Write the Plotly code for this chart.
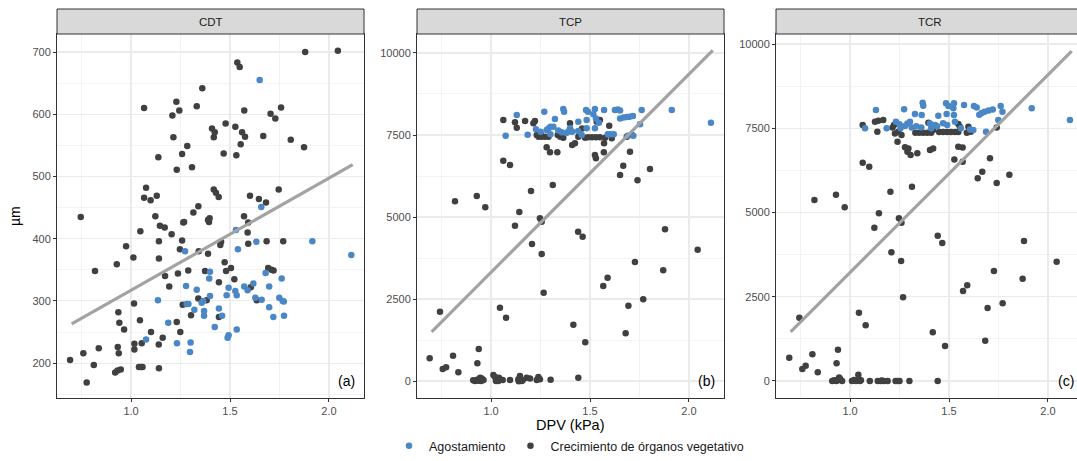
import plotly.graph_objects as go

# ---------------- data ----------------
cdt_ago_x = [1.650, 1.658, 1.076, 1.136, 1.188, 1.232, 1.273, 1.278, 1.281, 1.290, 1.298, 1.301, 1.320, 1.332,
             1.357, 1.365, 1.369, 1.369, 1.395, 1.399, 1.399, 1.423, 1.444, 1.460, 1.483, 1.488, 1.493, 1.493,
             1.527, 1.534, 1.534, 1.530, 1.540, 1.572, 1.589, 1.618, 1.628, 1.633, 1.660, 1.680, 1.698, 1.698,
             1.719, 1.749, 1.761, 1.766, 1.772, 1.773, 1.916, 2.113]
cdt_ago_y = [655, 451, 238, 301, 265, 232, 380, 324, 295, 295, 218, 233, 286, 318,
             297, 300, 284, 276, 336, 347, 308, 258, 288, 276, 309, 241, 245, 321,
             316, 309, 254, 414, 383, 323, 317, 328, 305, 395, 302, 345, 323, 290,
             274, 305, 336, 300, 299, 276, 396, 374]
cdt_cre_x = [0.746, 1.066, 1.138, 1.076, 1.066, 1.099, 1.130, 1.123, 1.209, 1.229, 1.244, 1.214, 1.231, 1.258,
             1.284, 1.308, 1.332, 1.360, 1.268, 1.315, 1.340, 1.389, 1.397, 1.409, 1.423, 1.418, 1.418, 1.429,
             1.443, 1.468, 1.478, 1.527, 1.532, 1.537, 1.549, 1.572, 1.561, 1.576, 1.554, 1.601, 1.571, 1.592,
             1.646, 1.682, 1.668, 1.705, 1.729, 1.758, 1.746, 1.807, 1.874, 1.880, 2.045,
             0.692, 0.759, 0.776, 0.812, 0.818, 0.837, 0.928, 0.936, 0.941, 0.965, 0.933, 0.938, 0.920, 0.932,
             0.948, 0.975, 1.012, 1.015, 1.017, 1.017, 1.045, 1.054, 1.047, 1.040, 1.050, 1.058, 1.101, 1.141,
             1.141, 1.140, 1.141, 1.146, 1.170, 1.160, 1.172, 1.193, 1.205, 1.231, 1.237, 1.249, 1.247, 1.258,
             1.264, 1.261, 1.289, 1.303, 1.340, 1.342, 1.374, 1.382, 1.389, 1.394, 1.444, 1.444, 1.451, 1.455,
             1.473, 1.480, 1.505, 1.522, 1.589, 1.592, 1.605, 1.635, 1.685, 1.693, 1.710, 1.720, 1.769]
cdt_cre_y = [435, 610, 531, 482, 466, 462, 469, 436, 598, 620, 606, 563, 511, 536,
             549, 515, 613, 642, 427, 442, 452, 430, 433, 577, 571, 563, 479, 474,
             467, 537, 585, 580, 534, 683, 676, 606, 571, 564, 552, 469, 436, 426,
             464, 458, 565, 601, 593, 611, 479, 559, 547, 700, 702,
             205, 216, 169, 197, 348, 224, 359, 282, 265, 254, 226, 216, 185, 188,
             190, 388, 370, 296, 231, 222, 269, 232, 412, 194, 194, 194, 250, 396,
             368, 230, 192, 421, 418, 241, 340, 323, 407, 266, 344, 250, 383, 397,
             426, 294, 349, 277, 304, 380, 348, 301, 376, 427, 330, 274, 390, 395,
             362, 348, 353, 335, 410, 392, 322, 301, 396, 353, 350, 349, 396]

tcp_ago_x = [1.130, 1.074, 1.185, 1.269, 1.227, 1.281, 1.290, 1.300, 1.323, 1.365, 1.369, 1.315, 1.357, 1.399,
             1.390, 1.380, 1.410, 1.441, 1.458, 1.480, 1.490, 1.483, 1.483, 1.525, 1.517, 1.530, 1.525, 1.571,
             1.545, 1.590, 1.605, 1.620, 1.626, 1.640, 1.652, 1.652, 1.670, 1.685, 1.700, 1.717, 1.690, 1.719,
             1.753, 1.761, 1.913, 2.111, 1.250, 1.300, 1.440, 1.340]
tcp_ago_y = [8110, 7479, 7510, 8211, 7674, 7653, 7700, 7750, 7989, 8293, 8211, 7754, 7583, 7705,
             7600, 7560, 7600, 7906, 7500, 8263, 8211, 7958, 7705, 8293, 8131, 8000, 7705, 8263,
             7870, 7520, 7520, 7520, 8260, 8280, 8250, 8000, 8030, 8050, 8060, 8080, 7479, 7479,
             7827, 8263, 8263, 7876, 7600, 7520, 7620, 7640]
tcp_cre_x = [1.062, 1.121, 1.130, 1.172, 1.222, 1.214, 1.231, 1.240, 1.256, 1.273, 1.290, 1.337, 1.350, 1.365,
             1.281, 1.298, 1.335, 1.399, 1.410, 1.424, 1.441, 1.450, 1.475, 1.490, 1.510, 1.530, 1.550, 1.534,
             1.550, 1.597, 1.576, 1.610, 1.571, 1.525, 1.530, 1.570, 1.702, 1.668, 1.803, 1.652, 1.740, 1.062,
             1.096, 1.686, 1.712, 1.400, 1.460, 1.250,
             0.818, 0.928, 0.971, 1.121, 1.143, 1.202, 1.247, 1.256, 1.312, 1.440, 1.463, 1.879, 1.207, 1.256,
             1.266, 1.416, 1.476, 1.567, 1.589, 1.680, 1.694, 1.727, 1.769, 1.870, 2.044, 1.045, 1.076, 0.742,
             0.690, 0.756, 0.773, 0.808, 0.835, 0.938, 0.931, 1.441,
             0.910, 0.919, 0.929, 0.942, 0.953, 0.962, 0.935, 0.945, 1.012, 1.020, 1.029, 1.037, 1.059, 1.025,
             1.096, 1.138, 1.146, 1.155, 1.180, 1.197, 1.231, 1.239, 1.247, 1.301, 1.160, 1.140, 1.040, 0.950]
tcp_cre_y = [7958, 7887, 7723, 7927, 7927, 7857, 7500, 7449, 7449, 7449, 7449, 7500, 7449, 7418,
             7125, 6973, 6973, 7857, 7196, 7247, 7449, 7500, 7418, 7430, 7430, 7430, 7430, 7906,
             7958, 7784, 7418, 7398, 7247, 6891, 6790, 6975, 6991, 6565, 6464, 6281, 6119, 6717,
             6586, 7449, 7500, 7650, 7700, 7550,
             5479, 5641, 5296, 4735, 5153, 5793, 4960, 4857, 5976, 4552, 4400, 4630, 4177, 3872,
             2693, 1717, 1180, 2896, 3150, 1454, 2296, 3628, 2490, 3375, 4003, 2236, 1931, 2114,
             691, 366, 418, 772, 264, 976, 539, 101,
             20, 0, 40, 60, 80, 30, 10, 100, 183, 120, 50, 0, 30, 0,
             30, 50, 150, 0, 100, 80, 30, 120, 50, 40, 20, -10, 100, 0]

tcr_ago_x = [1.131, 1.076, 1.185, 1.273, 1.232, 1.278, 1.290, 1.303, 1.328, 1.367, 1.370, 1.362, 1.312, 1.360,
             1.404, 1.410, 1.430, 1.446, 1.485, 1.497, 1.488, 1.491, 1.525, 1.522, 1.525, 1.530, 1.576, 1.606,
             1.623, 1.626, 1.640, 1.653, 1.665, 1.680, 1.700, 1.721, 1.687, 1.749, 1.761, 1.770, 1.918, 2.111,
             1.255, 1.335, 1.470, 1.560, 1.440, 1.250]
tcr_ago_y = [8041, 7497, 7497, 8062, 7694, 7566, 7645, 7694, 7922, 8259, 8170, 7892, 7526, 7526,
             7645, 7500, 7600, 7872, 8239, 8160, 7922, 7595, 8239, 8091, 7892, 7694, 8189, 7467,
             7447, 8159, 8120, 7900, 7950, 7990, 8030, 8060, 7397, 7744, 8159, 7990, 8091, 7744,
             7500, 7560, 7650, 7500, 7560, 7620]
tcr_cre_x = [1.064, 1.126, 1.143, 1.168, 1.138, 1.222, 1.215, 1.227, 1.244, 1.260, 1.240, 1.278, 1.295, 1.290,
             1.306, 1.340, 1.330, 1.350, 1.370, 1.390, 1.410, 1.396, 1.404, 1.420, 1.450, 1.470, 1.490, 1.510,
             1.530, 1.547, 1.547, 1.555, 1.598, 1.590, 1.610, 1.547, 1.569, 1.527, 1.569, 1.707, 1.741, 1.064,
             1.097, 1.645, 1.668, 1.741, 1.805, 1.420,
             0.820, 0.929, 0.973, 1.123, 1.146, 1.204, 1.247, 1.260, 1.313, 1.443, 1.466, 1.879, 1.209, 1.258,
             1.268, 1.418, 1.480, 1.571, 1.592, 1.683, 1.695, 1.727, 1.771, 1.872, 2.044, 1.045, 1.079, 0.744,
             0.693, 0.759, 0.776, 0.810, 0.837, 0.939, 0.932, 1.042, 1.443,
             0.910, 0.920, 0.930, 0.940, 0.950, 0.960, 0.935, 0.945, 1.010, 1.020, 1.030, 1.050, 1.055, 1.100,
             1.140, 1.155, 1.170, 1.190, 1.230, 1.240, 1.250, 1.300, 1.160, 1.045]
tcr_cre_y = [7595, 7694, 7723, 7744, 7397, 7595, 7526, 7348, 7397, 7298, 7101, 6933, 6903, 6803,
             6705, 6755, 7368, 7368, 7368, 7368, 7368, 7664, 6854, 6903, 7390, 7390, 7390, 7390,
             7390, 7390, 7625, 7546, 7546, 7368, 7397, 6952, 6932, 6576, 6507, 6607, 7526, 6477,
             6358, 6014, 6210, 5875, 6121, 7450,
             5370, 5528, 5153, 4549, 4975, 5617, 4827, 4697, 5765, 4311, 4094, 4154, 3818, 3560,
             2483, 1445, 1038, 2670, 2839, 1196, 2166, 3264, 2305, 3036, 3540, 2027, 1652, 1878,
             691, 356, 454, 792, 258, 929, 525, 187, 0,
             0, 20, 0, 40, 60, 0, 10, 100, 0, 30, 0, 0, 20, 0,
             0, 0, 0, 0, 0, 0, 0, 0, 10, 40]

# linear fit lines (endpoints)
fit_x = [0.70, 2.12]
cdt_fit_y = [263, 519]
tcp_fit_y = [1500, 10080]
tcr_fit_y = [1460, 9790]

panels = ["CDT", "TCP", "TCR"]
panel_tags = ["(a)", "(b)", "(c)"]
legend_names = ["Agostamiento", "Crecimiento de órganos vegetativo"]

# ---------------- styling ----------------
FONT = "Liberation Sans, Arial, sans-serif"
COL_AGO = "#4A87C6"
COL_CRE = "#404040"
COL_FIT = "#A3A3A3"
GRID = "#EBEBEB"
BORDER = "#333333"

fig = go.Figure()

data_sets = [
    (cdt_ago_x, cdt_ago_y, cdt_cre_x, cdt_cre_y, cdt_fit_y),
    (tcp_ago_x, tcp_ago_y, tcp_cre_x, tcp_cre_y, tcp_fit_y),
    (tcr_ago_x, tcr_ago_y, tcr_cre_x, tcr_cre_y, tcr_fit_y),
]

for i, (ax_, ay_, cx_, cy_, fy_) in enumerate(data_sets):
    xa = "x" if i == 0 else f"x{i+1}"
    ya = "y" if i == 0 else f"y{i+1}"
    fig.add_trace(go.Scatter(x=cx_, y=cy_, mode="markers", xaxis=xa, yaxis=ya,
                             marker=dict(color=COL_CRE, size=6.5, line=dict(width=0)),
                             name=legend_names[1], legendgroup="cre", showlegend=(i == 0),
                             legendrank=2, cliponaxis=False))
    fig.add_trace(go.Scatter(x=ax_, y=ay_, mode="markers", xaxis=xa, yaxis=ya,
                             marker=dict(color=COL_AGO, size=6.5, line=dict(width=0)),
                             name=legend_names[0], legendgroup="ago", showlegend=(i == 0),
                             legendrank=1, cliponaxis=False))
    fig.add_trace(go.Scatter(x=fit_x, y=fy_, mode="lines", xaxis=xa, yaxis=ya,
                             line=dict(color=COL_FIT, width=3.2), showlegend=False,
                             hoverinfo="skip"))

# The page's body margin is removed (post_script below), so figure px = page px.
# The figure is a little wider than the window so the third panel is cut at the
# right edge exactly like the reference picture.
W, H = 1083, 461
ML, MT = 57, 34
MB = H - 398
MR = 0
PW = W - ML - MR
PH = H - MT - MB

def px_to_paper_x(px):
    return (px - ML) / PW

def px_to_paper_y(py):
    return (H - MB - py) / PH

domains = [
    [px_to_paper_x(57), px_to_paper_x(364)],
    [px_to_paper_x(417), px_to_paper_x(724)],
    [px_to_paper_x(776), 1.0],
]
x_ranges = [[0.626, 2.177], [0.626, 2.177], [0.626, 2.177]]
y_ranges = [[144, 729], [-518, 10579], [-506, 10298]]
y_major = [[200, 300, 400, 500, 600, 700], [0, 2500, 5000, 7500, 10000], [0, 2500, 5000, 7500, 10000]]
y_minor = [[150, 250, 350, 450, 550, 650], [1250, 3750, 6250, 8750], [1250, 3750, 6250, 8750]]

layout_axes = {}
for i in range(3):
    xk = "xaxis" if i == 0 else f"xaxis{i+1}"
    yk = "yaxis" if i == 0 else f"yaxis{i+1}"
    ya = "y" if i == 0 else f"y{i+1}"
    xa = "x" if i == 0 else f"x{i+1}"
    layout_axes[xk] = dict(
        domain=domains[i], anchor=ya, range=x_ranges[i],
        tickmode="array", tickvals=[1.0, 1.5, 2.0], ticktext=["1.0", "1.5", "2.0"],
        showgrid=True, gridcolor=GRID, gridwidth=1.1,
        minor=dict(tickmode="array", tickvals=[0.75, 1.25, 1.75], showgrid=True,
                   gridcolor=GRID, gridwidth=0.6),
        zeroline=False, showline=True, linecolor=BORDER, linewidth=1, mirror=True,
        ticks="outside", ticklen=3, tickcolor=BORDER, tickwidth=1,
        tickfont=dict(family=FONT, size=11, color="#4D4D4D"),
    )
    layout_axes[yk] = dict(
        domain=[0, 1], anchor=xa, range=y_ranges[i],
        tickmode="array", tickvals=y_major[i], ticktext=[str(v) for v in y_major[i]],
        showgrid=True, gridcolor=GRID, gridwidth=1.1,
        minor=dict(tickmode="array", tickvals=y_minor[i], showgrid=True,
                   gridcolor=GRID, gridwidth=0.6),
        zeroline=False, showline=True, linecolor=BORDER, linewidth=1, mirror=True,
        ticks="outside", ticklen=3, tickcolor=BORDER, tickwidth=1,
        tickfont=dict(family=FONT, size=11, color="#4D4D4D"),
    )

shapes = []
annotations = []
strip_top = px_to_paper_y(9)
for i in range(3):
    x0, x1 = domains[i]
    shapes.append(dict(type="rect", xref="paper", yref="paper", x0=x0, x1=x1, y0=1.0, y1=strip_top,
                       fillcolor="#D9D9D9", line=dict(color=BORDER, width=1), layer="above"))
    annotations.append(dict(text=panels[i], xref="paper", yref="paper", x=(x0 + x1) / 2,
                            y=(1.0 + strip_top) / 2, showarrow=False, xanchor="center",
                            yanchor="middle", font=dict(family=FONT, size=11.5, color="#1A1A1A")))
    xd = "x domain" if i == 0 else f"x{i+1} domain"
    yd = "y domain" if i == 0 else f"y{i+1} domain"
    annotations.append(dict(text=panel_tags[i], xref=xd, yref=yd, x=1.0, y=px_to_paper_y(381),
                            xshift=-7, showarrow=False, xanchor="right",
                            yanchor="middle", font=dict(family=FONT, size=14, color="#000000")))

annotations.append(dict(text="µm", xref="paper", yref="paper", x=px_to_paper_x(15), y=px_to_paper_y(216),
                        textangle=-90, showarrow=False, xanchor="center", yanchor="middle",
                        font=dict(family=FONT, size=14, color="#000000")))
annotations.append(dict(text="DPV (kPa)", xref="paper", yref="paper", x=px_to_paper_x(570.5),
                        y=px_to_paper_y(425), showarrow=False, xanchor="center", yanchor="middle",
                        font=dict(family=FONT, size=14.5, color="#000000")))

fig.update_layout(
    width=W, height=H,
    margin=dict(l=ML, r=MR, t=MT, b=MB, pad=0, autoexpand=False),
    paper_bgcolor="white", plot_bgcolor="white",
    font=dict(family=FONT, size=11, color="#000000"),
    showlegend=True,
    legend=dict(orientation="h", x=px_to_paper_x(569), xanchor="center",
                y=px_to_paper_y(446), yanchor="middle",
                font=dict(family=FONT, size=12.5, color="#1A1A1A"),
                bgcolor="rgba(0,0,0,0)", itemwidth=30, traceorder="normal"),
    shapes=shapes, annotations=annotations,
    **layout_axes,
)

fig.write_html(
    "out.html",
    config={"displayModeBar": False, "staticPlot": True},
    post_script="document.documentElement.style.overflow='hidden';"
                "document.body.style.margin='0';document.body.style.overflow='hidden';",
)
